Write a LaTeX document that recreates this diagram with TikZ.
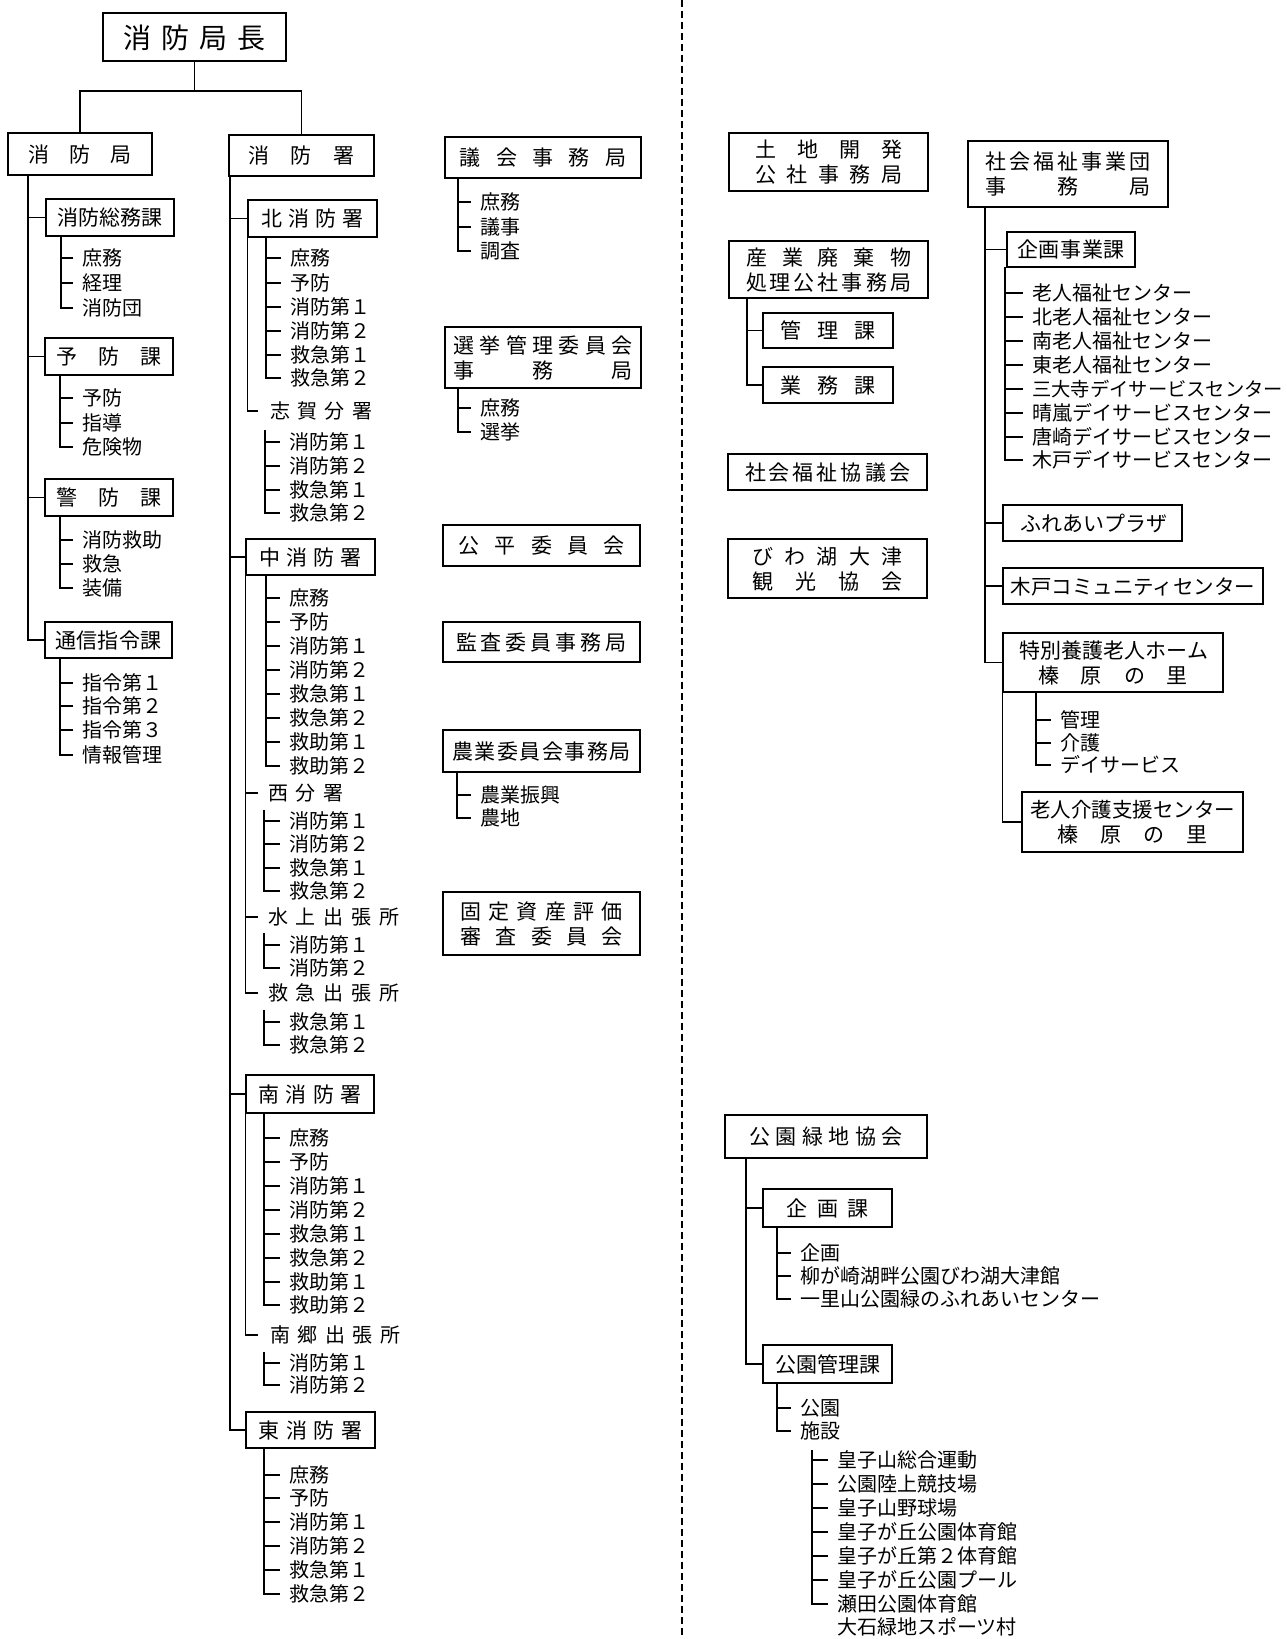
\documentclass[tikz,border=0pt]{standalone}
\usepackage{fontspec}
\setmainfont{Noto Sans CJK JP}
\usetikzlibrary{fit}
\newcommand\sprd[2]{\makebox[#1][s]{\spaceskip=0pt plus 1fil\relax #2}}
\newcommand\itemlist[5]{%
  \foreach \yy/\lbl [count=\nn, remember=\yy as \py (initially #3)] in {#5}{%
    \node[ent] (#1\nn) at (#4,\yy) {\lbl};
    \draw[conn] (#2,\py) |- ([xshift=-9pt]#1\nn.west);
  }}
% one-line box: name, x1, y1, x2, y2, text
\newcommand\bx[6]{%
  \node[obox, fit={(#2,#3) (#4,#5)}] (#1) {};
  \node[btxt] (#1t) at (#1.center) {#6};}
% two-line box: name, x1, y1, x2, y2, line 1, line 2
\newcommand\bxx[7]{%
  \node[obox, fit={(#2,#3) (#4,#5)}] (#1) {};
  \node[btxt] (#1a) at ([yshift=12.5pt]#1.center) {#6};
  \node[btxt] (#1b) at ([yshift=-12.5pt]#1.center) {#7};}
\begin{document}
\begin{tikzpicture}[x=1pt,y=-1pt,
  obox/.style={draw, line width=1.6pt, inner sep=0pt},
  btxt/.style={inner sep=0pt, font=\fontsize{21}{26}\selectfont, text height=18pt, text depth=2pt},
  conn/.style={line width=1.4pt},
  ent/.style={anchor=west, inner sep=0pt, font=\fontsize{20}{24}\selectfont, text height=17pt, text depth=2pt},
  divider/.style={line width=1.3pt, dash pattern=on 7pt off 4pt}]
\useasboundingbox (0,0) rectangle (1286,1639);
\fill[white] (0,0) rectangle (1286,1639);
% divider
\coordinate (dtop) at (682,0);
\coordinate (dbot) at (682,1639);
\draw[divider] (dtop) -- (dbot);
% chief
\node[obox, line width=2pt, fit={(103,13) (286,61)}] (chief) {};
\node[btxt, font=\fontsize{28}{32}\selectfont, text height=24pt, text depth=3pt] (chieft) at ([yshift=-1pt]chief.center) {\sprd{142pt}{消 防 局 長}};
\bx{kyoku}{8}{133}{152}{175}{\sprd{104pt}{消 防 局}}
\bx{sho}{229}{135}{374}{176}{\sprd{106pt}{消 防 署}}
\coordinate (jn) at (194,91);
\draw[conn] (chief.south) -- (chief.south |- jn);
\draw[conn] (kyoku.north) -- (kyoku.north |- jn) -- (sho.north |- jn) -- (sho.north);
% left column
\bx{soumu}{46}{199}{174}{236}{\sprd{106pt}{消 防 総 務 課}}
\bx{yobo}{45}{338}{173}{375}{\sprd{105pt}{予 防 課}}
\bx{keibo}{45}{479}{173}{516}{\sprd{105pt}{警 防 課}}
\bx{tsushin}{45}{622}{172}{658}{\sprd{106pt}{通 信 指 令 課}}
\coordinate (kt) at (28,175);
\foreach \b in {soumu,yobo,keibo,tsushin} \draw[conn] (kt) |- (\b.west);
\itemlist{sa}{61}{236}{82}{258/庶務,283/経理,308/消防団}
\itemlist{ya}{60}{375}{82}{398/予防,423/指導,447/危険物}
\itemlist{ka}{60}{516}{82}{540/消防救助,564/救急,588/装備}
\itemlist{ta}{60}{658}{82}{683/指令第１,706/指令第２,730/指令第３,755/情報管理}
% fire stations
\bx{kita}{248}{200}{377}{237}{\sprd{103pt}{北 消 防 署}}
\bx{naka}{246}{539}{375}{575}{\sprd{103pt}{中 消 防 署}}
\bx{minami}{246}{1075}{374}{1113}{\sprd{104pt}{南 消 防 署}}
\bx{higashi}{246}{1412}{375}{1448}{\sprd{104pt}{東 消 防 署}}
\coordinate (st) at (230,176);
\foreach \b in {kita,naka,minami,higashi} \draw[conn] (st) |- (\b.west);
\itemlist{kl}{266}{237}{290}{258/庶務,283/予防,307/消防第１,331/消防第２,355/救急第１,378/救急第２}
\node[ent] (shiga) at (270,411) {\sprd{102pt}{志 賀 分 署}};
\draw[conn] (kita.south west) |- ([xshift=-12pt]shiga.west);
\itemlist{sg}{265}{430}{289}{442/消防第１,466/消防第２,490/救急第１,513/救急第２}
\itemlist{nk}{266}{575}{289}{598/庶務,622/予防,646/消防第１,670/消防第２,694/救急第１,718/救急第２,742/救助第１,766/救助第２}
\node[ent] (nishi) at (268,793) {\sprd{75pt}{西 分 署}};
\node[ent] (suijo) at (268,917) {\sprd{131pt}{水 上 出 張 所}};
\node[ent] (kyuq) at (268,993) {\sprd{131pt}{救 急 出 張 所}};
\foreach \b in {nishi,suijo,kyuq} \draw[conn] (naka.south west) |- ([xshift=-10pt]\b.west);
\itemlist{ns}{264}{810}{289}{821/消防第１,844/消防第２,868/救急第１,891/救急第２}
\itemlist{sj}{264}{933}{289}{945/消防第１,968/消防第２}
\itemlist{kq}{264}{1010}{289}{1022/救急第１,1045/救急第２}
\itemlist{mn}{264}{1113}{289}{1138/庶務,1162/予防,1186/消防第１,1210/消防第２,1234/救急第１,1258/救急第２,1282/救助第１,1305/救助第２}
\node[ent] (nango) at (270,1335) {\sprd{130pt}{南 郷 出 張 所}};
\draw[conn] (minami.south west) |- ([xshift=-12pt]nango.west);
\itemlist{ng}{264}{1352}{289}{1363/消防第１,1385/消防第２}
\itemlist{hg}{264}{1448}{289}{1475/庶務,1498/予防,1522/消防第１,1546/消防第２,1570/救急第１,1594/救急第２}
% column 3
\bx{gikai}{445}{137}{641}{178}{\sprd{167pt}{議 会 事 務 局}}
\itemlist{gk}{458}{178}{480}{202/庶務,227/議事,251/調査}
\bxx{senkyo}{445}{327}{641}{388}{\sprd{179pt}{選 挙 管 理 委 員 会}}{\sprd{179pt}{事 務 局}}
\itemlist{sk}{458}{388}{480}{408/庶務,432/選挙}
\bx{kohei}{443}{525}{640}{566}{\sprd{167pt}{公 平 委 員 会}}
\bx{kansa}{443}{622}{640}{662}{\sprd{171pt}{監 査 委 員 事 務 局}}
\bx{nogyo}{443}{730}{640}{772}{\sprd{179pt}{農 業 委 員 会 事 務 局}}
\itemlist{nj}{457}{772}{480}{795/農業振興,818/農地}
\bxx{kotei}{443}{892}{640}{955}{\sprd{162pt}{固 定 資 産 評 価}}{\sprd{162pt}{審 査 委 員 会}}
% column 4
\bxx{tochi}{729}{133}{928}{191}{\sprd{147pt}{土 地 開 発}}{\sprd{147pt}{公 社 事 務 局}}
\bxx{sanpai}{729}{241}{928}{298}{\sprd{165pt}{産 業 廃 棄 物}}{\sprd{165pt}{処 理 公 社 事 務 局}}
\bx{kanri}{763}{313}{893}{348}{\sprd{95pt}{管 理 課}}
\bx{gyomu}{763}{367}{893}{403}{\sprd{95pt}{業 務 課}}
\coordinate (sp) at (747,298);
\foreach \b in {kanri,gyomu} \draw[conn] (sp) |- (\b.west);
\bx{shakyo}{728}{454}{927}{490}{\sprd{165pt}{社 会 福 祉 協 議 会}}
\bxx{biwa}{728}{539}{927}{598}{\sprd{150pt}{び わ 湖 大 津}}{\sprd{150pt}{観 光 協 会}}
\bx{koen}{725}{1115}{927}{1158}{\sprd{153pt}{公 園 緑 地 協 会}}
\bx{kikaku}{763}{1189}{892}{1227}{\sprd{82pt}{企 画 課}}
\bx{kanrika}{763}{1345}{892}{1383}{\sprd{105pt}{公 園 管 理 課}}
\coordinate (kn) at (746,1158);
\foreach \b in {kikaku,kanrika} \draw[conn] (kn) |- (\b.west);
\itemlist{kk}{777}{1227}{800}{1253/企画,1276/柳が崎湖畔公園びわ湖大津館,1299/一里山公園緑のふれあいセンター}
\itemlist{km}{777}{1383}{800}{1408/公園,1431/施設}
\itemlist{fc}{812}{1450}{837}{1460/皇子山総合運動,1484/公園陸上競技場,1508/皇子山野球場,1532/皇子が丘公園体育館,1556/皇子が丘第２体育館,1580/皇子が丘公園プール,1604/瀬田公園体育館}
\node[ent] (oishi) at (837,1627) {大石緑地スポーツ村};
% column 5
\bxx{jigyo}{968}{141}{1168}{207}{\sprd{165pt}{社 会 福 祉 事 業 団}}{\sprd{165pt}{事 務 局}}
\bx{kikakuj}{1007}{232}{1135}{267}{\sprd{107pt}{企 画 事 業 課}}
\bx{fureai}{1003}{505}{1182}{541}{\sprd{145pt}{ふ れ あ い プ ラ ザ}}
\bx{kidoc}{1003}{568}{1263}{604}{\fontsize{20.5}{24}\selectfont 木戸コミュニティセンター}
\bxx{tokuyo}{1003}{633}{1223}{692}{\sprd{188pt}{特 別 養 護 老 人 ホ ー ム}}{\sprd{150pt}{榛 原 の 里}}
\bxx{shien}{1022}{792}{1243}{852}{\fontsize{20.5}{24}\selectfont 老人介護支援センター}{\sprd{150pt}{榛 原 の 里}}
\coordinate (jt) at (985,207);
\foreach \b in {kikakuj,fureai,kidoc,tokuyo} \draw[conn] (jt) |- (\b.west);
\itemlist{kj}{1005}{267}{1032}{293/老人福祉センター,317/北老人福祉センター,341/南老人福祉センター,365/東老人福祉センター,389/{\fontsize{19.3}{24}\selectfont 三大寺デイサービスセンター},413/晴嵐デイサービスセンター,437/唐崎デイサービスセンター,460/木戸デイサービスセンター}
\itemlist{ty}{1036}{692}{1060}{720/管理,743/介護,765/デイサービス}
\draw[conn] (tokuyo.south west) |- (shien.west);
\end{tikzpicture}
\end{document}
